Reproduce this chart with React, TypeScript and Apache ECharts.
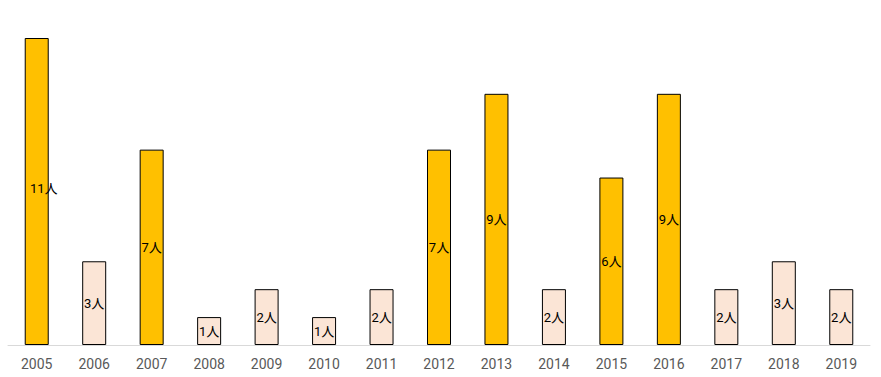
import React, { useEffect, useRef } from "react";
import * as echarts from "echarts";

const years = ["2005","2006","2007","2008","2009","2010","2011","2012","2013","2014","2015","2016","2017","2018","2019"];
const counts = [11, 3, 7, 1, 2, 1, 2, 7, 9, 2, 6, 9, 2, 3, 2];
const highlight = [true, false, true, false, false, false, false, true, true, false, true, true, false, false, false];

export default function App() {
  const ref = useRef<HTMLDivElement>(null);
  useEffect(() => {
    const chart = echarts.init(ref.current!, null, { renderer: "svg" });
    chart.setOption({
      animation: false,
      grid: { left: 8, right: 11, top: 38, bottom: 32, containLabel: false },
      xAxis: {
        type: "category",
        data: years,
        axisLine: { lineStyle: { color: "#d9d9d9", width: 1 } },
        axisTick: { show: false },
        axisLabel: { color: "#595959", fontSize: 14, fontFamily: "Roboto", margin: 12 },
      },
      yAxis: {
        type: "value",
        min: 0,
        max: 11,
        show: false,
        splitLine: { show: false },
      },
      series: [
        {
          type: "bar",
          barWidth: 24,
          data: counts.map((v, i) => ({
            value: v,
            itemStyle: {
              color: highlight[i] ? "#FFC000" : "#FBE5D6",
              borderColor: "#000000",
              borderWidth: 1,
            },
            label: i === 0 ? { offset: [7, -3] } : undefined,
          })),
          label: {
            show: true,
            position: "inside",
            formatter: (p: any) => p.value + "人",
            color: "#000000",
            fontSize: 13,
            fontFamily: "Roboto, 'Noto Sans CJK JP'",
          },
        },
      ],
    });
    return () => chart.dispose();
  }, []);
  return <div ref={ref} style={{ width: 881, height: 377, position: "absolute", left: 0, top: 0 }} />;
}
